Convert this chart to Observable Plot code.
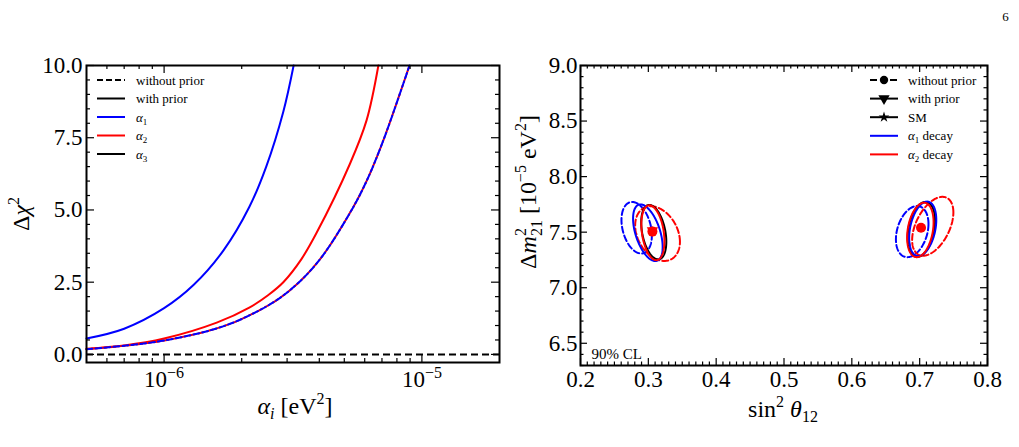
<!DOCTYPE html>
<html>
<head>
<meta charset="utf-8">
<script src="https://cdn.jsdelivr.net/npm/d3@7"></script>
<script src="https://cdn.jsdelivr.net/npm/@observablehq/plot@0.6"></script>
<style>
  html, body { margin: 0; padding: 0; background: #fff; }
  #page { position: relative; width: 1019px; height: 447px; overflow: hidden;
          font-family: "Liberation Serif", "Times New Roman", serif; }
  #page svg { position: absolute; top: 0; overflow: visible; }
</style>
</head>
<body>
<div id="page"></div>
<script>
// ---------- Left panel: Δχ² profiles versus the decay parameter α_i ----------
const alphaAlpha1Prior = [5e-7, 7e-7, 1e-6, 1.3e-6, 1.7e-6, 2.14e-6, 2.49e-6, 2.9e-6, 3.18e-6];
const chi2Alpha1Prior  = [0.55, 0.89, 1.6, 2.4, 3.6, 5.1, 6.5, 8.4, 10];

const alphaAlpha2Prior = [5e-7, 7e-7, 1e-6, 1.6e-6, 2.14e-6, 2.53e-6, 2.9e-6, 3.41e-6, 3.9e-6, 5.26e-6, 6.1e-6, 6.78e-6];
const chi2Alpha2Prior  = [0.2, 0.31, 0.55, 1.1, 1.62, 2.05, 2.5, 3.3, 4.2, 6.6, 8.1, 10];

// without prior: the α1 and α2 curves coincide
const alphaNoPrior = [5e-7, 7e-7, 1e-6, 1.6e-6, 2.14e-6, 2.9e-6, 3.9e-6, 5.26e-6, 6.1e-6, 7.08e-6, 8.95e-6];
const chi2NoPrior  = [0.18, 0.3, 0.48, 0.9, 1.35, 2.04, 3.14, 4.9, 6.0, 7.4, 10];

// α3 stays at zero
const chi2Alpha3 = [0];

const alphaMajorTicks = [1e-6, 1e-5];
const alphaMinorTicks = [6e-7, 7e-7, 8e-7, 9e-7, 2e-6, 3e-6, 4e-6, 5e-6, 6e-6, 7e-6, 8e-6, 9e-6];
const chi2MajorTicks = [0, 2.5, 5, 7.5, 10];

// ---------- Right panel: 90% CL regions in the (sin²θ12, Δm²21) plane ----------
const contourModel = ["α1", "α2", "SM", "α1", "α2",   "α1", "α2", "SM", "α1", "α2"];
const contourPrior = [false, false, true, true, true,  false, false, true, true, true];
const contourCx    = [0.2828, 0.3136, 0.308, 0.2993, 0.3067,   0.689, 0.7193, 0.7025, 0.7045, 0.701];
const contourCy    = [7.54, 7.487, 7.50, 7.495, 7.495,          7.505, 7.553, 7.525, 7.53, 7.52];
const contourSx    = [0.0224, 0.033, 0.0185, 0.0218, 0.017,     0.024, 0.0304, 0.0202, 0.020, 0.0195];
const contourSy    = [0.232, 0.246, 0.245, 0.255, 0.247,        0.23, 0.265, 0.247, 0.245, 0.245];
const contourRho   = [-0.30, -0.30, -0.35, -0.5, -0.3,          0.3, 0.47, 0.30, 0.33, 0.28];

const bestFitModel = ["SM", "α2", "α2", "α2"];
const bestFitKind  = ["with prior", "with prior", "without prior", "without prior"];
const bestFitS12   = [0.306, 0.306, 0.306, 0.702];
const bestFitDm21  = [7.51, 7.515, 7.505, 7.54];

const s12Ticks  = [0.2, 0.3, 0.4, 0.5, 0.6, 0.7, 0.8];
const dm21Ticks = [6.5, 7.0, 7.5, 8.0, 8.5, 9.0];

// ---------- styling ----------
const FONT = '"Liberation Serif", "Times New Roman", Times, serif';
const BLUE = "#0000ff", RED = "#ff0000", BLACK = "#000000";
const modelColor = {"α1": BLUE, "α2": RED, "SM": BLACK};
const page = document.getElementById("page");

function inTicksX(vals, len, fh) {
  return [
    Plot.tickX(vals, {x: d => d, insetTop: fh - len, stroke: BLACK, strokeWidth: 1.2}),
    Plot.tickX(vals, {x: d => d, insetBottom: fh - len, stroke: BLACK, strokeWidth: 1.2})
  ];
}
function inTicksY(vals, len, fw) {
  return [
    Plot.tickY(vals, {y: d => d, insetRight: fw - len, stroke: BLACK, strokeWidth: 1.2}),
    Plot.tickY(vals, {y: d => d, insetLeft: fw - len, stroke: BLACK, strokeWidth: 1.2})
  ];
}
const zipXY = (xs, ys) => xs.map((x, i) => ({x, y: ys[i]}));

// text with sub/superscript pieces; shift in px (negative = up)
function rich(parent, x, y, parts, size, opts = {}) {
  const t = parent.append("text")
    .attr("font-family", FONT).attr("font-size", size).attr("fill", BLACK)
    .attr("text-anchor", opts.anchor || "middle")
    .attr("transform", `translate(${x},${y})` + (opts.rotate ? " rotate(-90)" : ""));
  let cur = 0;
  for (const p of parts) {
    const sh = p.shift || 0;
    const ts = t.append("tspan").text(p.t);
    if (sh !== cur) ts.attr("dy", sh - cur);
    cur = sh;
    if (p.size) ts.attr("font-size", p.size);
    if (p.italic) ts.attr("font-style", "italic");
    if (p.dx) ts.attr("dx", p.dx);
  }
  return t;
}

// ================= Left panel =================
const L = {w: 510, h: 447, ml: 86, mr: 11, mt: 65, mb: 85};
const LFH = L.h - L.mt - L.mb, LFW = L.w - L.ml - L.mr;

const left = Plot.plot({
  width: L.w, height: L.h,
  marginLeft: L.ml, marginRight: L.mr, marginTop: L.mt, marginBottom: L.mb,
  style: {fontFamily: FONT, fontSize: "23px", color: BLACK, background: "transparent"},
  x: {type: "log", domain: [5e-7, 2e-5]},
  y: {domain: [-0.28, 10]},
  marks: [
    Plot.ruleY(chi2Alpha3, {stroke: BLACK, strokeWidth: 2, strokeDasharray: "7,4"}),
    Plot.line(zipXY(alphaAlpha1Prior, chi2Alpha1Prior), {x: "x", y: "y", stroke: BLUE, strokeWidth: 2, curve: "catmull-rom"}),
    Plot.line(zipXY(alphaAlpha2Prior, chi2Alpha2Prior), {x: "x", y: "y", stroke: RED, strokeWidth: 2, curve: "catmull-rom"}),
    Plot.line(zipXY(alphaNoPrior, chi2NoPrior), {x: "x", y: "y", stroke: RED, strokeWidth: 2, curve: "catmull-rom", strokeDasharray: "6,3", strokeDashoffset: -5}),
    Plot.line(zipXY(alphaNoPrior, chi2NoPrior), {x: "x", y: "y", stroke: BLUE, strokeWidth: 2, curve: "catmull-rom", strokeDasharray: "6,3"}),
    ...inTicksX(alphaMajorTicks, 8, LFH),
    ...inTicksX(alphaMinorTicks, 4, LFH),
    ...inTicksY(chi2MajorTicks, 8, LFW),
    ...inTicksY(d3.range(0.5, 10, 0.5).filter(v => Math.abs(v / 2.5 - Math.round(v / 2.5)) > 1e-6), 4, LFW),
    Plot.frame({stroke: BLACK, strokeWidth: 2}),
    Plot.axisX({ticks: alphaMajorTicks, tickSize: 0, tickPadding: 8, label: null,
                tickFormat: d => `10^${Math.round(Math.log10(d))}`}),
    Plot.axisY({ticks: chi2MajorTicks, tickSize: 0, tickPadding: 4, label: null, tickFormat: d3.format(".1f")})
  ]
});
left.style.left = "0px";
page.append(left);

const ls = d3.select(left);
ls.selectAll('g[aria-label="x-axis tick label"] text').each(function () {
  const [b, e] = this.textContent.split("^");
  const t = d3.select(this);
  t.text(null);
  t.append("tspan").text(b);
  t.append("tspan").text(e.replace("-", "\u2212")).attr("font-size", 16).attr("dy", -9);
});

// axis titles
rich(ls, 28.5, 214, [
  {t: "Δ"}, {t: "χ", italic: true}, {t: "2", size: 16, shift: -10}
], 24, {rotate: true});
rich(ls, 295, 414, [
  {t: "α", italic: true}, {t: "i", italic: true, size: 16, shift: 5},
  {t: " [eV", shift: 0}, {t: "2", size: 16, shift: -10}, {t: "]", shift: 0}
], 24);

// legend
const leftLegend = [
  {label: [{t: "without prior"}], stroke: BLACK, dash: "6,3"},
  {label: [{t: "with prior"}], stroke: BLACK},
  {label: [{t: "α", italic: true}, {t: "1", size: 9, shift: 3}], stroke: BLUE},
  {label: [{t: "α", italic: true}, {t: "2", size: 9, shift: 3}], stroke: RED},
  {label: [{t: "α", italic: true}, {t: "3", size: 9, shift: 3}], stroke: BLACK}
];
leftLegend.forEach((e, i) => {
  const y = 80 + i * 18.5;
  ls.append("line").attr("x1", 97).attr("x2", 125).attr("y1", y).attr("y2", y)
    .attr("stroke", e.stroke).attr("stroke-width", 2).attr("stroke-dasharray", e.dash || null);
  rich(ls, 136, y + 4.5, e.label, 13, {anchor: "start"});
});

// ================= Right panel =================
const R = {w: 509, h: 447, ml: 70, mr: 32, mt: 65, mb: 82};
const RFH = R.h - R.mt - R.mb, RFW = R.w - R.ml - R.mr;

function contourPoints(i) {
  const r = contourRho[i], q = Math.sqrt(1 - r * r);
  return d3.range(0, 181).map(k => {
    const t = 2 * Math.PI * k / 180;
    return {x: contourCx[i] + contourSx[i] * Math.cos(t),
            y: contourCy[i] + contourSy[i] * (r * Math.cos(t) + q * Math.sin(t))};
  });
}
// draw order: dashed (no prior) first, then SM, then with-prior contours
const drawOrder = [0, 1, 5, 6, 2, 7, 3, 8, 4, 9];
const contourMarks = drawOrder.map(i => Plot.line(contourPoints(i), {
  x: "x", y: "y", stroke: modelColor[contourModel[i]], strokeWidth: 2,
  strokeDasharray: contourPrior[i] ? null : "6,3"
}));

const bestFit = bestFitS12.map((s, i) => ({s, m: bestFitDm21[i], model: bestFitModel[i], kind: bestFitKind[i]}));

const s12Minor = d3.range(20, 81).filter(v => v % 10 !== 0).map(v => v / 100);
const dm21Minor = d3.range(63, 91).filter(v => v % 5 !== 0).map(v => v / 10);

const right = Plot.plot({
  width: R.w, height: R.h,
  marginLeft: R.ml, marginRight: R.mr, marginTop: R.mt, marginBottom: R.mb,
  style: {fontFamily: FONT, fontSize: "23px", color: BLACK, background: "transparent"},
  x: {domain: [0.2, 0.8]},
  y: {domain: [6.3, 9.0]},
  marks: [
    ...contourMarks,
    // best-fit points: SM star, with-prior triangle, without-prior circle
    Plot.dot(bestFit.filter(d => d.model === "SM"), {x: "s", y: "m", symbol: "star", r: 3, fill: BLACK, stroke: "none"}),
    Plot.dot(bestFit.filter(d => d.model !== "SM" && d.kind === "with prior"), {
      x: "s", y: "m", symbol: "triangle", r: 4.2, rotate: 180,
      fill: d => modelColor[d.model], stroke: "none"
    }),
    Plot.dot(bestFit.filter(d => d.model !== "SM" && d.kind === "without prior"), {
      x: "s", y: "m", symbol: "circle", r: 5,
      fill: d => modelColor[d.model], stroke: "none"
    }),
    ...inTicksX(s12Ticks, 7, RFH),
    ...inTicksX(s12Minor, 3.5, RFH),
    ...inTicksY(dm21Ticks, 7, RFW),
    ...inTicksY(dm21Minor, 3.5, RFW),
    Plot.frame({stroke: BLACK, strokeWidth: 2}),
    Plot.text(["90% CL"], {frameAnchor: "bottom-left", textAnchor: "start", lineAnchor: "bottom",
                           dx: 11, dy: -7, fontSize: 15, fill: BLACK}),
    Plot.axisX({ticks: s12Ticks, tickSize: 0, tickPadding: 5, label: null, tickFormat: d3.format(".1f")}),
    Plot.axisY({ticks: dm21Ticks, tickSize: 0, tickPadding: 3, label: null, tickFormat: d3.format(".1f")})
  ]
});
right.style.left = "510px";
page.append(right);

const rs = d3.select(right);
rich(rs, 783 - 510, 417, [
  {t: "sin"}, {t: "2", size: 16, shift: -10}, {t: " θ", italic: true, shift: 0},
  {t: "12", size: 16, shift: 5}
], 24);
rich(rs, 536 - 510, 192, [
  {t: "Δ"}, {t: "m", italic: true},
  {t: "2", size: 16, shift: -10},
  {t: "21", size: 16, shift: 6, dx: -8},
  {t: " [10", shift: 0}, {t: "\u22125", size: 16, shift: -10},
  {t: " eV", shift: 0}, {t: "2", size: 16, shift: -10}, {t: "]", shift: 0}
], 24, {rotate: true});

// legend
const rightLegend = [
  {label: [{t: "without prior"}], stroke: BLACK, dash: "7,3", sym: d3.symbolCircle, rot: 0},
  {label: [{t: "with prior"}], stroke: BLACK, sym: d3.symbolTriangle, rot: 180},
  {label: [{t: "SM"}], stroke: BLACK, sym: d3.symbolStar, rot: 0, size: 36},
  {label: [{t: "α", italic: true}, {t: "1", size: 9, shift: 3}, {t: " decay", shift: 0}], stroke: BLUE},
  {label: [{t: "α", italic: true}, {t: "2", size: 9, shift: 3}, {t: " decay", shift: 0}], stroke: RED}
];
rightLegend.forEach((e, i) => {
  const y = 80 + i * 18.6;
  rs.append("line").attr("x1", 870 - 510).attr("x2", 898 - 510).attr("y1", y).attr("y2", y)
    .attr("stroke", e.stroke).attr("stroke-width", 2).attr("stroke-dasharray", e.dash || null);
  if (e.sym) {
    rs.append("path").attr("d", d3.symbol(e.sym, e.size || 55)())
      .attr("transform", `translate(${884 - 510},${y}) rotate(${e.rot})`).attr("fill", BLACK);
  }
  rich(rs, 908 - 510, y + 4.5, e.label, 13, {anchor: "start"});
});

// page number
rs.append("text").attr("x", 1005.5 - 510).attr("y", 20.5).attr("text-anchor", "middle")
  .attr("font-family", FONT).attr("font-size", 13).attr("fill", BLACK).text("6");
</script>
</body>
</html>
